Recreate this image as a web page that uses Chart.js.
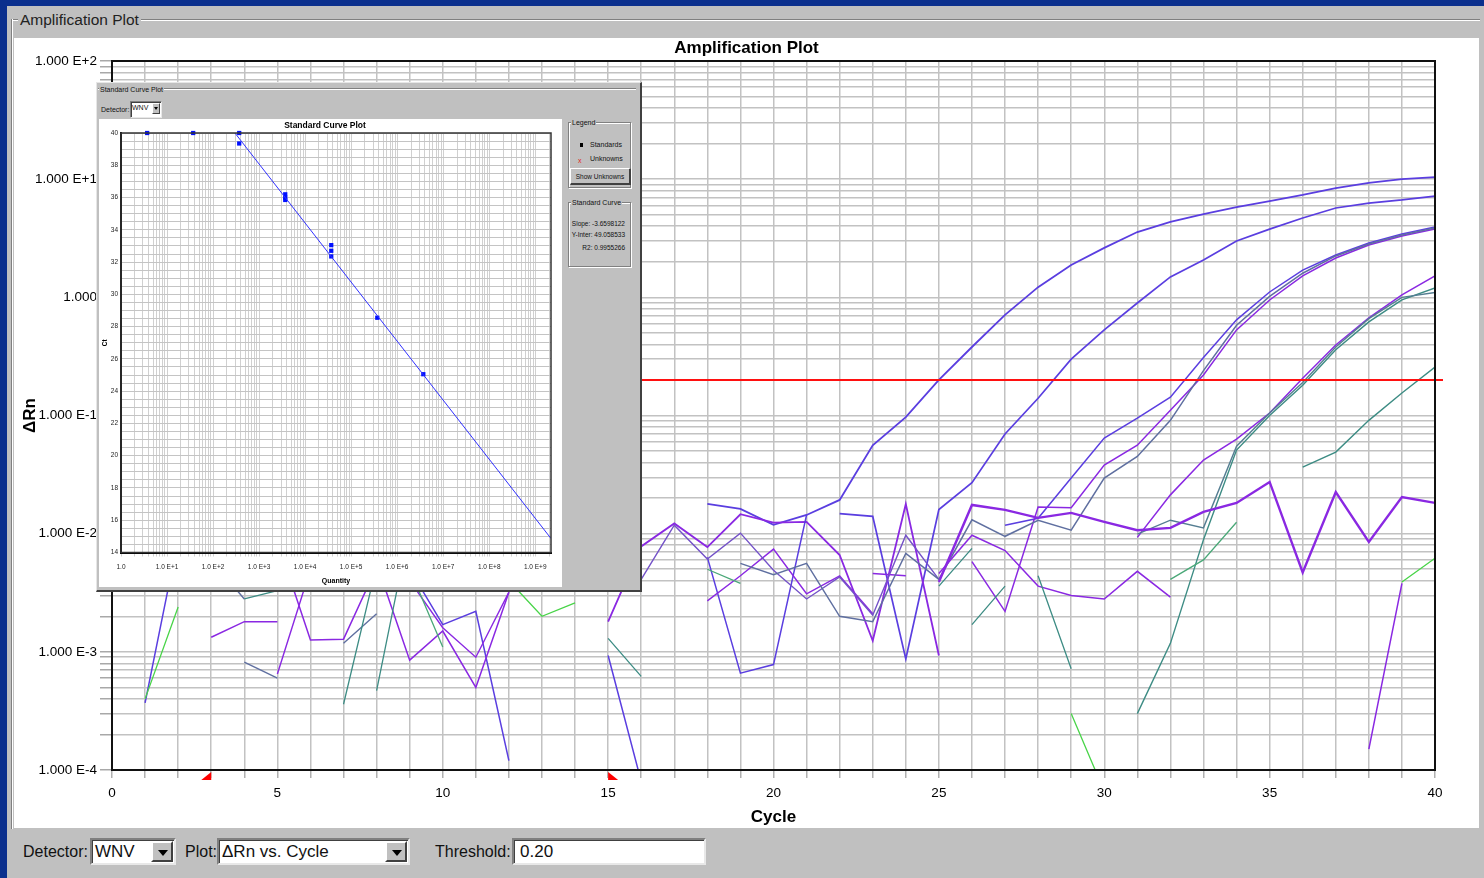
<!DOCTYPE html>
<html>
<head>
<meta charset="utf-8">
<title>Amplification Plot</title>
<script src="https://cdn.jsdelivr.net/npm/chart.js@4.4.1/dist/chart.umd.min.js"></script>
<style>
  html, body { margin:0; padding:0; }
  body { width:1484px; height:878px; background:#0b2f8d; position:relative; overflow:hidden;
         font-family:"Liberation Sans", Arial, sans-serif; color:#000; }
  .abs { position:absolute; }
  #win { left:7px; top:6px; width:1477px; height:872px; background:#c0c0c0; }
  .eh { position:absolute; height:0; border-top:1px solid #808080; border-bottom:1px solid #ffffff; }
  .ev { position:absolute; width:0; border-left:1px solid #808080; border-right:1px solid #ffffff; }
  #grpLabel { left:18px; top:10px; font-size:15.5px; line-height:20px; background:#c0c0c0; padding:0 2px; color:#222; }
  #white { left:14px; top:38px; width:1465px; height:790px; background:#fff; }
  #mainCanvas { position:absolute; left:14px; top:38px; }
  .lbl { font-size:16px; line-height:20px; color:#111; white-space:nowrap; }
  .box { position:absolute; box-sizing:border-box; background:#fff; border-style:solid; border-width:2px;
         border-color:#808080 #e8e8e8 #e8e8e8 #808080; box-shadow: inset 1px 1px 0 #404040;
         font-size:17px; line-height:23px; padding-left:3px; white-space:nowrap; color:#111; }
  .dbtn { position:absolute; right:1px; top:1px; width:22px; height:21px; box-sizing:border-box; background:#c0c0c0;
          border-style:solid; border-width:2px; border-color:#fff #404040 #404040 #fff; }
  .dbtn:after { content:""; position:absolute; left:5px; top:7px; width:0; height:0;
          border-left:5px solid transparent; border-right:5px solid transparent; border-top:6px solid #000; }
  .sbtn { position:absolute; right:1px; top:1px; width:8px; height:11px; box-sizing:border-box; background:#c0c0c0;
          border-style:solid; border-width:1px; border-color:#fff #404040 #404040 #fff; }
  .sbtn:after { content:""; position:absolute; left:1px; top:3px; width:0; height:0;
          border-left:2px solid transparent; border-right:2px solid transparent; border-top:3px solid #000; }
  /* inset */
  #inset { left:96px; top:82px; width:546px; height:510px; box-sizing:border-box; background:#c0c0c0;
           border-style:solid; border-width:1px 2px 2px 1px; border-color:#e6e6e6 #404040 #404040 #e6e6e6; }
  .tiny { position:absolute; font-family:"Liberation Sans Narrow","Liberation Sans",Arial,sans-serif;
          font-size:7px; line-height:9px; color:#111; white-space:nowrap; }
  .grp { position:absolute; box-sizing:border-box; border:1px solid #808080; box-shadow:1px 1px 0 #fff, inset 1px 1px 0 #fff; }
  #insetCanvas { position:absolute; left:2px; top:36px; background:#fff; }
</style>
</head>
<body>
<div id="win" class="abs"></div>
<div class="eh" style="left:12px;top:19px;width:1468px;"></div>
<div class="ev" style="left:11px;top:19px;height:810px;"></div>
<div id="grpLabel" class="abs">Amplification Plot</div>
<div id="white" class="abs"></div>
<canvas id="mainCanvas" width="1465" height="790"></canvas>

<!-- bottom controls -->
<div class="abs lbl" style="left:23px;top:842px;">Detector:</div>
<div class="box" style="left:90px;top:838px;width:86px;height:27px;">WNV<div class="dbtn"></div></div>
<div class="abs lbl" style="left:185px;top:842px;">Plot:</div>
<div class="box" style="left:217px;top:838px;width:193px;height:27px;">ΔRn vs. Cycle<div class="dbtn"></div></div>
<div class="abs lbl" style="left:435px;top:842px;">Threshold:</div>
<div class="box" style="left:512px;top:838px;width:194px;height:27px;padding-left:6px;">0.20</div>

<!-- Standard curve inset window -->
<div id="inset" class="abs">
  <div class="eh" style="left:1px;top:5px;width:538px;"></div>
  <div class="tiny" style="left:2px;top:2px;background:#c0c0c0;padding:0 1px;">Standard Curve Plot</div>
  <div class="tiny" style="left:4px;top:21.5px;">Detector:</div>
  <div class="box" style="left:33px;top:18px;width:32px;height:17px;font-size:7px;line-height:12px;padding-left:1px;border-width:1px;font-family:'Liberation Sans Narrow','Liberation Sans',Arial,sans-serif;">WNV<div class="sbtn"></div></div>
  <canvas id="insetCanvas" width="463" height="468"></canvas>

  <div class="grp" style="left:471px;top:39px;width:63px;height:66px;"></div>
  <div class="tiny" style="left:474px;top:34.5px;background:#c0c0c0;padding:0 1px;">Legend</div>
  <div class="abs" style="left:482.5px;top:59.5px;width:3px;height:4px;background:#000;"></div>
  <div class="tiny" style="left:493px;top:56.5px;">Standards</div>
  <div class="tiny" style="left:481px;top:72.5px;color:#e02020;">x</div>
  <div class="tiny" style="left:493px;top:70.5px;">Unknowns</div>
  <div class="abs" style="left:473px;top:85px;width:61px;height:17px;box-sizing:border-box;background:#c0c0c0;border-style:solid;border-width:1px 2px 2px 1px;border-color:#fff #404040 #404040 #fff;"></div>
  <div class="tiny" style="left:473px;top:89px;width:60px;text-align:center;font-size:6.5px;">Show Unknowns</div>

  <div class="grp" style="left:471px;top:119px;width:63px;height:65px;"></div>
  <div class="tiny" style="left:474px;top:114.5px;background:#c0c0c0;padding:0 1px;">Standard Curve</div>
  <div class="tiny" id="slopeTxt" style="left:471px;top:135.5px;width:57px;text-align:right;font-size:6.5px;"></div>
  <div class="tiny" id="interTxt" style="left:471px;top:146.5px;width:57px;text-align:right;font-size:6.5px;"></div>
  <div class="tiny" id="r2Txt" style="left:471px;top:159.5px;width:57px;text-align:right;font-size:6.5px;"></div>
</div>

<script>
// ---------------- DATA: amplification plot ----------------
const _ = null;
const cycles = [1,2,3,4,5,6,7,8,9,10,11,12,13,14,15,16,17,18,19,20,
                21,22,23,24,25,26,27,28,29,30,31,32,33,34,35,36,37,38,39,40];
const xTickEvery = 5;
const yDecades    = [1e-4, 1e-3, 1e-2, 1e-1, 1, 1e1, 1e2];
const yTickLabels = ["1.000 E-4","1.000 E-3","1.000 E-2","1.000 E-1","1.000","1.000 E+1","1.000 E+2"];
const THRESHOLD = 0.20;
const BASELINE_START = 3;
const BASELINE_END = 15;

// amplification curves (ΔRn per cycle 1..40; null = no value / not drawn)
const curveA = [_,_,_,_,_,_,_,_,_,_,
                _,_,_,_,_,_,_,0.0179,0.0162,0.0119,
                0.0144,0.0193,0.056,0.097,0.20,0.38,0.71,1.22,1.88,2.62,
                3.57,4.35,5.07,5.8,6.53,7.35,8.4,9.3,10.0,10.4];
const curveB = [_,_,_,_,_,_,_,_,_,_,
                _,_,_,_,_,_,_,_,_,_,
                _,0.0148,0.014,0.00087,0.016,0.027,0.0697,0.14,0.30,0.53,
                0.895,1.49,2.07,3.0,3.78,4.69,5.7,6.28,6.67,7.2];
const curveC1 = [_,_,_,_,_,_,_,_,_,_,
                 _,_,_,_,_,_,_,_,_,_,
                 _,_,_,_,_,_,0.0118,0.0135,0.0296,0.0645,
                 0.095,0.143,0.31,0.645,1.11,1.7,2.28,2.88,3.44,3.94];
const curveC2 = [_,_,_,_,_,_,_,_,_,_,
                 _,_,_,_,_,_,_,_,_,_,
                 _,_,_,_,_,0.0058,0.0022,0.0168,0.0166,0.038,
                 0.056,0.111,0.22,0.53,0.95,1.52,2.15,2.77,3.3,3.79];
const curveC3 = [_,_,_,_,_,_,_,_,_,_,
                 _,_,_,_,_,_,_,_,_,_,
                 _,_,_,_,0.0041,0.0131,0.0095,0.013,0.0107,0.0295,
                 0.045,0.091,0.24,0.58,1.02,1.6,2.24,2.83,3.37,3.86];
const curveD1 = [_,_,_,_,_,_,_,_,_,_,
                 _,_,_,_,_,_,_,_,_,_,
                 _,_,_,_,_,_,_,_,_,_,
                 0.0093,0.0213,0.042,0.063,0.105,0.207,0.395,0.67,1.05,1.52];
const curveD2 = [_,_,_,_,_,_,_,_,_,_,
                 _,_,_,_,_,_,_,_,_,_,
                 _,_,_,_,_,_,_,_,_,_,
                 0.0003,0.00118,0.0089,0.051,0.1,0.18,0.36,0.62,0.95,1.2];
const curveD3 = [_,_,_,_,_,_,_,_,_,_,
                 _,_,_,_,_,_,_,_,_,_,
                 _,_,_,_,_,_,_,_,_,_,
                 0.0099,0.013,0.0112,0.055,0.105,0.19,0.38,0.66,1.0,1.1];
const curveE = [_,_,_,_,_,_,_,_,_,_,
                _,_,_,_,_,_,_,_,_,_,
                _,_,_,_,_,_,_,_,_,_,
                _,_,_,_,_,0.0366,0.049,0.091,0.155,0.257];
// baseline noise traces
const noiseF = [_,_,_,_,_,_,_,_,_,_,
                _,_,_,_,_,_,_,_,_,_,
                _,_,_,_,0.0039,0.0175,0.0159,0.0136,0.015,0.0126,
                0.0107,0.0112,0.0153,0.0182,0.0274,0.0047,0.0225,0.0085,0.0204,0.0182];
const noiseP5 = [_,_,_,_,_,_,_,_,_,_,
                 _,_,_,_,0.0018,0.0078,0.0122,0.0077,0.0146,0.0124,
                 0.0126,0.0066,0.00124,0.0178,0.00093,_,_,_,_,_,
                 _,_,_,_,_,_,_,_,_,_];
const noiseBV = [0.00037,0.009,_,_,_,_,_,_,0.005,0.0017,
                 0.0022,0.00012,_,_,0.00093,0.00008,_,0.0063,0.00066,0.00078,
                 0.0144,_,_,_,_,_,_,_,_,_,
                 _,_,_,_,_,_,_,_,_,_];
const noisePu1 = [_,_,0.00133,0.0018,0.0018,_,_,0.0056,0.00085,0.0015,
                  0.0005,0.0032,_,_,_,_,_,_,_,_,
                  _,_,_,_,0.0046,0.0097,0.0072,0.0036,0.003,0.0028,
                  0.0048,0.0029,_,_,_,_,_,0.00015,0.0038,_];
const noisePu2 = [_,_,_,_,0.00065,0.005,_,_,0.004,0.0016,
                  0.0009,0.0032,_,_,_,_,_,0.0027,0.0044,0.0074,
                  0.0031,0.0044,0.0021,_,_,_,_,_,_,_,
                  _,_,_,_,_,_,_,_,_,_];
const noisePu3 = [_,_,_,_,0.0087,0.00126,0.00128,0.0052,_,_,
                  _,_,_,_,_,_,_,_,_,_,
                  _,_,0.0046,0.0044,_,_,_,_,_,_,
                  _,_,_,_,_,_,_,_,_,_];
const noisePS = [_,_,_,_,_,_,_,_,_,_,
                 _,_,_,_,_,0.0041,0.0118,0.0061,0.0101,0.0049,
                 0.0028,0.0043,0.00204,0.0097,0.0041,_,_,_,_,_,
                 _,_,_,_,_,_,_,_,_,_];
const noiseSl1 = [_,_,0.006,0.0028,_,_,0.00118,0.0021,_,_,
                  _,_,_,_,_,_,_,_,0.0056,0.0045,
                  0.0056,0.002,0.0018,0.0068,0.0041,_,_,_,_,_,
                  _,_,_,_,_,_,_,_,_,_];
const noiseSl2 = [_,_,_,0.00082,0.0006,_,_,_,_,_,
                  _,_,_,_,_,_,_,_,_,_,
                  _,_,_,_,_,_,_,_,_,_,
                  _,_,_,_,_,_,_,_,_,_];
const noiseTe1 = [_,_,_,_,_,_,0.00036,0.0054,_,_,
                  _,_,_,_,0.0013,0.00062,_,_,_,_,
                  _,_,_,_,0.0036,0.0075,_,0.0044,0.00072,_,
                  _,_,_,_,_,_,_,_,_,_];
const noiseTe2 = [_,_,_,0.0028,0.0033,_,_,0.00047,0.0113,_,
                  _,_,_,_,_,_,_,_,_,_,
                  _,_,_,_,_,0.0017,0.0036,_,_,_,
                  _,_,_,_,_,_,_,_,_,_];
const noiseGt = [_,_,_,_,_,_,_,_,0.005,0.0011,
                 _,_,_,_,_,_,_,0.005,0.0038,_,
                 _,_,_,_,_,_,_,_,_,_,
                 _,0.0041,0.006,0.0125,_,_,_,_,_,_];
const noiseGr = [0.0004,0.0024,_,_,_,_,_,_,_,_,
                 _,0.004,0.002,0.0026,_,_,_,_,_,_,
                 _,_,_,_,_,_,_,_,0.0003,0.000066,
                 _,_,_,_,_,_,_,_,0.0039,0.0062];

// ---------------- DATA: standard curve inset ----------------
const stdQuantity = [3.7, 37, 370, 370, 3700, 3700, 3700, 37000, 37000, 37000, 370000, 3700000];
const stdCt       = [40, 40, 40, 39.35, 36.2, 36.0, 35.85, 33.05, 32.7, 32.35, 28.55, 25.05];
const SLOPE = -3.6598122;
const Y_INTER = 49.058533;
const R2 = 0.9955266;
const insetXDecades = [1, 1e1, 1e2, 1e3, 1e4, 1e5, 1e6, 1e7, 1e8, 1e9];
const insetXLabels  = ["1.0","1.0 E+1","1.0 E+2","1.0 E+3","1.0 E+4","1.0 E+5","1.0 E+6","1.0 E+7","1.0 E+8","1.0 E+9"];
const insetXMax = 2.2e9;
const ctMin = 14, ctMax = 40, ctGridStep = 0.5, ctLabelStep = 2;

// ---------------- styles ----------------
const FONT = "'Liberation Sans', Arial, sans-serif";
const NARROW = "'Liberation Sans Narrow', 'Liberation Sans', Arial, sans-serif";
const C_BV = '#5a3ee0', C_PU = '#8a28e2', C_SL = '#5f6fa0', C_TE = '#3d8c84',
      C_GT = '#4aa878', C_GR = '#48d448', C_PS = '#7452c8', C_ST = '#557e92';

const seriesDefs = [
  [noiseGr, C_GR, 1.3], [noiseGt, C_GT, 1.3], [noiseTe1, C_TE, 1.3], [noiseTe2, C_TE, 1.3],
  [noiseSl1, C_SL, 1.4], [noiseSl2, C_SL, 1.4], [noisePS, C_PS, 1.4],
  [noisePu1, C_PU, 1.5], [noisePu2, C_PU, 1.4], [noisePu3, C_PU, 1.5],
  [noiseBV, C_BV, 1.5], [noiseP5, C_PU, 1.8], [noiseF, C_PU, 2.4],
  [curveE, C_TE, 1.4], [curveD3, C_ST, 1.4], [curveD2, C_TE, 1.4], [curveD1, C_PU, 1.5],
  [curveC3, C_SL, 1.5], [curveC2, C_PU, 1.5], [curveC1, C_BV, 1.5],
  [curveB, C_BV, 1.7], [curveA, C_BV, 1.8]
];

const yGrid = [];
for (let d = 0; d < yDecades.length - 1; d++) {
  for (let k = 1; k <= 9; k++) yGrid.push(k * yDecades[d]);
}
yGrid.push(yDecades[yDecades.length - 1]);

function decadeLabel(v, decades, labels) {
  const i = decades.findIndex(d => Math.abs(v / d - 1) < 1e-6);
  return i >= 0 ? labels[i] : '';
}

const framePlugin = {
  id: 'frame',
  afterDraw(chart, args, opts) {
    const {ctx, chartArea: a} = chart;
    ctx.save();
    ctx.strokeStyle = opts.color || '#000';
    ctx.lineWidth = opts.width || 2;
    ctx.strokeRect(a.left, a.top, a.right - a.left, a.bottom - a.top);
    ctx.restore();
  }
};

const thresholdPlugin = {
  id: 'threshold',
  afterDatasetsDraw(chart) {
    const {ctx, chartArea: a, scales} = chart;
    const y = scales.y.getPixelForValue(THRESHOLD);
    ctx.save();
    ctx.strokeStyle = '#ff1010';
    ctx.lineWidth = 2;
    ctx.beginPath();
    ctx.moveTo(a.left, y);
    ctx.lineTo(a.right + 8, y);
    ctx.stroke();
    ctx.restore();
  }
};

const baselinePlugin = {
  id: 'baseline',
  afterDraw(chart) {
    const {ctx, chartArea: a, scales} = chart;
    const xs = scales.x.getPixelForValue(BASELINE_START);
    const xe = scales.x.getPixelForValue(BASELINE_END);
    const t = a.bottom + 2, b = a.bottom + 10;
    ctx.save();
    ctx.fillStyle = '#ff0000';
    ctx.beginPath(); ctx.moveTo(xs, t); ctx.lineTo(xs, b); ctx.lineTo(xs - 10, b); ctx.closePath(); ctx.fill();
    ctx.beginPath(); ctx.moveTo(xe, t); ctx.lineTo(xe, b); ctx.lineTo(xe + 10, b); ctx.closePath(); ctx.fill();
    ctx.restore();
  }
};

new Chart(document.getElementById('mainCanvas'), {
  type: 'line',
  data: {
    datasets: seriesDefs.map(([vals, color, w]) => ({
      data: vals.map((v, i) => ({x: cycles[i], y: v})),
      borderColor: color, borderWidth: w, pointRadius: 0, fill: false,
      tension: 0, spanGaps: false
    }))
  },
  options: {
    responsive: false, animation: false, devicePixelRatio: 1,
    layout: {padding: 0},
    plugins: {
      legend: {display: false}, tooltip: {enabled: false},
      title: {display: true, text: 'Amplification Plot', color: '#000',
              font: {family: FONT, size: 17, weight: 'bold'}, padding: {top: 0, bottom: 2.6}},
      frame: {color: '#111', width: 2}
    },
    scales: {
      x: {
        type: 'linear', min: 0, max: 40,
        afterFit(s) { s.height = 58; },
        ticks: {stepSize: 1, autoSkip: false, maxRotation: 0, padding: 7, color: '#000',
                font: {family: FONT, size: 13.5},
                callback: v => (v % xTickEvery === 0 ? String(v) : '')},
        grid: {color: '#c2c2c2', lineWidth: 1.5, tickLength: 8, tickColor: '#b0b0b0'},
        border: {display: true, color: '#000', width: 2},
        title: {display: true, text: 'Cycle', color: '#000',
                font: {family: FONT, size: 17, weight: 'bold'}, padding: {top: 0, bottom: 0}}
      },
      y: {
        type: 'logarithmic', min: yDecades[0], max: yDecades[yDecades.length - 1],
        afterFit(s) { s.width = 98; },
        afterBuildTicks(s) { s.ticks = yGrid.map(v => ({value: v})); },
        ticks: {autoSkip: false, padding: 3, color: '#000', font: {family: FONT, size: 13.5},
                callback: v => decadeLabel(v, yDecades, yTickLabels)},
        grid: {color: '#c2c2c2', lineWidth: 1.5, tickLength: 12, tickColor: '#a8a8a8'},
        border: {display: true, color: '#000', width: 2},
        title: {display: true, text: 'ΔRn', color: '#000',
                font: {family: FONT, size: 17, weight: 'bold'}, padding: {top: 6, bottom: 0}}
      },
      yRight: {
        type: 'linear', position: 'right', display: true,
        afterFit(s) { s.width = 44; },
        ticks: {display: false}, grid: {display: false, drawTicks: false}, border: {display: false}
      }
    }
  },
  plugins: [framePlugin, thresholdPlugin, baselinePlugin]
});

// ---------------- inset: standard curve ----------------
document.getElementById('slopeTxt').textContent = 'Slope: ' + SLOPE.toFixed(7);
document.getElementById('interTxt').textContent = 'Y-Inter: ' + Y_INTER.toFixed(6);
document.getElementById('r2Txt').textContent = 'R2: ' + R2.toFixed(7);

const insetXGrid = [];
for (const d of insetXDecades) {
  for (let k = 1; k <= 9; k++) if (k * d <= insetXMax) insetXGrid.push(k * d);
}
const qAtTop = Math.pow(10, (ctMax - Y_INTER) / SLOPE);
const fitLine = [
  {x: qAtTop, y: ctMax},
  {x: insetXMax, y: SLOPE * Math.log10(insetXMax) + Y_INTER}
];
const stdPoints = stdQuantity.map((q, i) => ({x: q, y: stdCt[i]}));

new Chart(document.getElementById('insetCanvas'), {
  type: 'scatter',
  data: {
    datasets: [
      {type: 'line', data: fitLine, borderColor: '#3030ff', borderWidth: 1, pointRadius: 0, fill: false},
      {type: 'scatter', data: stdPoints, pointStyle: 'rect', pointRadius: 3, backgroundColor: '#0010ff',
       borderWidth: 0, clip: false}
    ]
  },
  options: {
    responsive: false, animation: false, devicePixelRatio: 1,
    layout: {padding: {left: 0, right: 11, top: 0, bottom: 0}},
    plugins: {
      legend: {display: false}, tooltip: {enabled: false},
      title: {display: true, text: 'Standard Curve Plot', color: '#000',
              font: {family: NARROW, size: 8.5, weight: 'bold'}, padding: {top: 2, bottom: 1.8}},
      frame: {color: '#333', width: 1.5}
    },
    scales: {
      x: {
        type: 'logarithmic', min: 1, max: insetXMax,
        afterFit(s) { s.height = 34.5; },
        afterBuildTicks(s) { s.ticks = insetXGrid.map(v => ({value: v})); },
        ticks: {autoSkip: false, maxRotation: 0, padding: 7, color: '#222',
                font: {family: NARROW, size: 6.5},
                callback: v => decadeLabel(v, insetXDecades, insetXLabels)},
        grid: {color: '#d0d0d0', lineWidth: 1, tickLength: 4, tickColor: '#d0d0d0'},
        border: {display: true, color: '#000', width: 2},
        title: {display: true, text: 'Quantity', color: '#000',
                font: {family: NARROW, size: 7, weight: 'bold'}, padding: {top: 0, bottom: 2}}
      },
      y: {
        type: 'linear', min: ctMin, max: ctMax,
        afterFit(s) { s.width = 22; },
        ticks: {stepSize: ctGridStep, autoSkip: false, padding: 3, color: '#222',
                font: {family: NARROW, size: 6.5},
                callback: v => (Math.abs(v % ctLabelStep) < 1e-9 ? String(v) : '')},
        grid: {color: '#c4c4c4', lineWidth: 1, drawTicks: false},
        border: {display: true, color: '#000', width: 2},
        title: {display: true, text: 'Ct', color: '#000',
                font: {family: NARROW, size: 6.5, weight: 'bold'}, padding: {top: 2, bottom: 0}}
      }
    }
  },
  plugins: [framePlugin]
});
</script>
</body>
</html>
